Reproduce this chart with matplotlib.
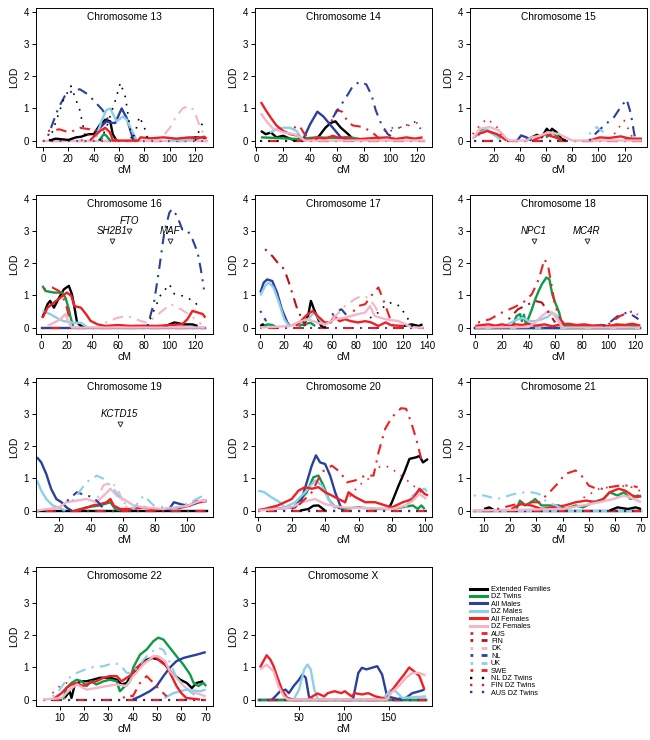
import numpy as np
import matplotlib.pyplot as plt
from matplotlib.lines import Line2D

plt.rcParams['font.family'] = ['Liberation Sans', 'DejaVu Sans']

# series order, labels and look (as in the legend)
keys = ["EXT", "DZT", "AM", "DZM", "AF", "DZF", "AUS", "FIN", "DK", "NL", "UK", "SWE", "NLDZ", "FINDZ", "AUSDZ"]
labels = ["Extended Families", "DZ Twins", "All Males", "DZ Males", "All Females", "DZ Females",
          "AUS", "FIN", "DK", "NL", "UK", "SWE", "NL DZ Twins", "FIN DZ Twins", "AUS DZ Twins"]
colors = ["#000000", "#0f9a48", "#2b3f9e", "#8ccfea", "#ee2024", "#f6b5c6",
          "#ee2024", "#b5121b", "#f6b5c6", "#2b3f9e", "#8ccfea", "#ee2024", "#000000", "#ee2024", "#2b3f9e"]
dashdot = (0, (1, 3, 5, 3))
dotted = (0, (1, 4))
styles = ["-"] * 6 + [dashdot] * 6 + [dotted] * 3
widths = [1.7] * 6 + [1.5] * 6 + [1.2] * 3
# drawing order of the flat zero lines: pink and blue dots end up on top
base_order = ["EXT", "DZT", "AM", "DZM", "AF", "AUS", "FIN", "DK", "NL", "UK", "SWE", "NLDZ", "FINDZ", "DZF", "AUSDZ"]

chroms = ["13", "14", "15", "16", "17", "18", "19", "20", "21", "22", "X"]
spans = [(0, 129), (3, 126), (5, 133), (1, 128), (0, 137), (0, 124), (6, 112), (0, 102), (6, 70), (3, 70), (6, 191)]
xlims = [(-5.5, 134), (-1, 131), (2, 137), (-4, 134), (-4.5, 144), (-4, 129), (5.6, 116), (-2, 104), (4.6, 72.3), (0.2, 73), (1, 198)]
xticks = [range(0, 121, 20), range(0, 121, 20), range(20, 121, 20), range(0, 121, 20), range(0, 141, 20),
          range(0, 121, 20), range(20, 101, 20), range(0, 101, 20), range(10, 71, 10), range(10, 71, 10), [50, 100, 150]]

# LOD curves, (cM, LOD); None breaks a line
c13 = {
    "EXT": [(5, 0), (10, 0.06), (15, 0.04), (20, 0.02), (26, 0.1), (30, 0.12), (36, 0.2), (40, 0.2), (45, 0.5), (49, 0.65),
            (53, 0.6), (55, 0.2), (58, 0), None, (105, 0), (110, 0.05), (120, 0.1), (128, 0.08)],
    "DZT": [(44, 0), (48, 0.2), (50, 0.15), (53, 0)],
    "AM": [(42, 0.3), (45, 0.4), (50, 0.6), (54, 0.55), (57, 0.55), (62, 1.0), (66, 0.7), (71, 0.05), (73, 0)],
    "DZM": [(42, 0.1), (46, 0.6), (50, 0.95), (53, 1.0), (58, 0.6), (63, 0.75), (66, 0.65), (69, 0.4), (74, 0), None,
            (100, 0), (120, 0.05), (128, 0.12)],
    "AF": [(37, 0), (42, 0.2), (45, 0.3), (49, 0.4), (53, 0.25), (55, 0), (75, 0), (77, 0.1), (85, 0.07), (95, 0.1),
           (105, 0.06), (115, 0.1), (122, 0.07), (127, 0.12), (129, 0.06)],
    "DK": [(92, 0), (100, 0.4), (105, 0.75), (110, 1.0), (115, 1.08), (119, 0.95), (124, 0.4), (128, 0.1)],
    "AUS": [(4, 0.3), (13, 0.35), (21, 0.25), (29, 0.4), (37, 0.35), (42, 0.2), (47, 0.05)],
    "NL": [(4, 0.15), (12, 1.0), (18, 1.45), (24, 1.55), (29, 1.6), (35, 1.45), (40, 1.25), (47, 0.95), (52, 0.6)],
    "NLDZ": [(5, 0), (16, 1.25), (22, 1.7), (29, 0.95), (34, 0), None, (45, 0), (50, 0.4), (57, 1.25), (61, 1.8), (65, 1.35),
             (70, 0), (73, 0.3), (76, 0.75), (80, 0.4), (83, 0), None, (120, 0), (124, 0.4), (127, 0.65)],
    "FINDZ": [(30, 0), (40, 0.3), (50, 0.35), (55, 0.1), (60, 0)],
}
c14 = {
    "AF": [(3.4, 1.2), (7, 0.95), (11, 0.7), (15, 0.47), (20, 0.3), (25.5, 0.2), (31, 0.15), (36, 0), (40, 0.05), (46, 0.1),
           (51, 0.05), (57, 0.15), (62, 0.08), (67, 0.1), (72, 0.03), (78, 0.05), (88, 0.08), (98, 0.1), (104, 0.05),
           (112, 0.1), (118, 0.06), (124, 0.1)],
    "DZF": [(3.4, 0.85), (7, 0.63), (12.5, 0.37), (20, 0.26), (28, 0.2), (33, 0.1), (36, 0), (126, 0)],
    "EXT": [(3.4, 0.3), (7, 0.2), (11, 0.25), (15, 0.1), (20, 0.15), (25.5, 0.05), (30, 0), None, (44, 0), (46, 0.1),
            (51.5, 0.4), (55.5, 0.55), (59, 0.6), (63, 0.4), (68.5, 0.2), (72, 0.05), (74, 0)],
    "AM": [(35, 0.05), (40, 0.5), (45.5, 0.9), (50, 0.75), (57, 0.4), (63, 0.1), (68.5, 0)],
    "NL": [(54, 0.5), (59, 0.85), (67, 1.35), (72, 1.7), (77, 1.83), (82, 1.75), (86, 1.4), (89, 0.95), (93, 0.53),
           (98, 0.2), (104, 0.05)],
    "AUS": [(28, 0.4), (32, 0.47), (36, 0.2), (40, 0.05), None, (56, 0.6), (60, 0.95), (64, 0.9), (68, 0.6), (72, 0.47),
            (80, 0.42), (88, 0.2), (92, 0.05)],
    "FINDZ": [(95, 0.3), (102, 0.4), (109, 0.42), (116, 0.5), (120, 0.55), (124, 0.4)],
    "AUSDZ": [(100, 0.3), (110, 0.45), (118, 0.58), (124, 0.3)],
    "DZT": [(3.4, 0.1), (15, 0.08), (30, 0.05), (45, 0.1), (60, 0.08), (70, 0.1), (80, 0.03)],
    "DZM": [(10, 0.25), (15, 0.35), (20, 0.4), (25, 0.4), (30, 0.3), (33, 0.1), (36, 0)],
}
c15 = {
    "NL": [(93, 0), (96, 0.15), (103, 0.42), (112, 0.74), (117, 1.05), (121.5, 1.28), (124.7, 0.84), (127.3, 0.2), (128.6, 0)],
    "DZF": [(4, 0.05), (9.5, 0.37), (17, 0.42), (24, 0.32), (29, 0.1), (32, 0), (45, 0), (49, 0.1), (55, 0.15), (62, 0.26),
            (70, 0.2), (77.5, 0.05), (80, 0), (133, 0)],
    "AF": [(5, 0.1), (7, 0.2), (12, 0.25), (15, 0.3), (19, 0.25), (22.6, 0.2), (26.5, 0.1), (30, 0), None, (50, 0), (55, 0.1),
           (59, 0.2), (63, 0.15), (67, 0.1), (72, 0.02), None, (93, 0), (101, 0.1), (108, 0.08), (117, 0.13), (122, 0.08),
           (127, 0.05), (133, 0.05)],
    "EXT": [(45, 0), (49, 0.1), (53, 0.18), (56.6, 0.1), (60.6, 0.37), (63, 0.26), (64.5, 0.37), (68, 0.26), (72, 0.05), (75, 0)],
    "AM": [(38, 0), (41, 0.16), (45, 0.1), (49, 0)],
    "FINDZ": [(4, 0.2), (10, 0.5), (15, 0.68), (22.6, 0.42), (28, 0), None, (112, 0.2), (119.5, 0.63), (124.7, 0.2), (127, 0)],
    "UK": [(93, 0.2), (98.5, 0.42), (103.8, 0.26), (106, 0.1)],
    "DZT": [(8, 0.15), (12, 0.37), (16, 0.3), (22, 0.15), (25, 0.05), None, (60, 0.1), (65, 0.25), (68, 0.15), (72, 0),
            None, (120, 0.05), (133, 0.06)],
    "DZM": [(5, 0.1), (10, 0.25), (15, 0.35), (20, 0.2), (25, 0.05)],
}
c16 = {
    "NL": [(83, 0.05), (88, 0.78), (92, 1.82), (96, 2.96), (100, 3.58), (102, 3.69), (106, 3.48), (110, 3.06), (114, 3.04),
           (118, 2.75), (122, 2.34), (124.5, 1.82), (127, 1.19)],
    "NLDZ": [(85, 0.26), (93, 1.0), (100, 1.35), (104, 1.04), (110, 0.99), (119, 0.83), (124.5, 0.57)],
    "DK": [(50, 0.15), (59, 0.3), (67, 0.36), (78, 0.2), (83, 0.15), (93, 0.47), (101, 0.73), (109, 0.57), (117, 0.36),
           (125, 0.1)],
    "AF": [(1, 0.3), (5, 0.62), (10, 0.78), (15, 0.93), (20, 1.09), (23.5, 0.99), (26, 0.67), (31, 0.62), (35, 0.42),
           (38.5, 0.21), (44, 0.1), (50, 0.05), (60, 0.08), (70, 0.05), (80, 0.06), (90, 0.05), (100, 0.08), (110, 0.1),
           (114, 0.26), (118, 0.52), (122, 0.47), (126, 0.42), (128, 0.31)],
    "DZT": [(1, 1.3), (3.4, 1.14), (10, 1.09), (16.4, 1.09), (19, 0.93), (21.6, 0.57), (23, 0.31), (25, 0.05)],
    "EXT": [(1, 0.31), (5, 0.73), (7, 0.83), (10, 0.62), (14, 0.93), (17.7, 1.19), (21.6, 1.3), (24, 1.04), (26, 0.62),
            (28, 0.16), (31, 0.05), (35, 0), None, (95, 0), (100, 0.1), (104, 0.16), (111, 0.1), (118, 0.1), (122, 0.05)],
    "AUS": [(2, 1.2), (8.6, 1.25), (14, 1.14), (17.7, 0.88), (20, 0.62), (22, 0.3)],
    "DZM": [(1, 0.52), (7, 0.42), (14, 0.26), (17.7, 0.2), (25, 0.15), (31, 0.15), (33, 0.1), (36, 0)],
    "DZF": [(5, 0.05), (10, 0.15), (15, 0.26), (19, 0.42), (21.6, 0.15), (24, 0), (128, 0)],
}
c17 = {
    "FIN": [(4, 2.44), (10, 2.23), (15.6, 1.97), (20, 1.82), (24, 1.4), (27, 1.04), (31, 0.57), (35, 0.26), (38, 0.05)],
    "AM": [(0, 1.09), (2.8, 1.4), (5.7, 1.5), (10, 1.45), (14, 1.09), (18, 0.57), (22.6, 0.16), (25, 0.03)],
    "DZM": [(0, 1.0), (4, 1.3), (7, 1.4), (11, 1.25), (15.6, 0.78), (20, 0.26), (24, 0.05), (30, 0.1), (40, 0.26),
            (45, 0.47), (49.5, 0.26), (54, 0.05)],
    "EXT": [(0, 0.05), (2, 0.1), (5, 0.02), None, (36, 0.05), (40, 0.36), (42.4, 0.83), (45, 0.57), (48, 0.31), (51, 0.05),
            (55, 0), None, (120, 0.05), (127, 0.1), (133, 0.05), (136, 0.1)],
    "AF": [(30, 0.05), (34, 0.2), (38, 0.36), (41, 0.45), (44, 0.52), (48, 0.36), (54, 0.16), (59, 0.16), (62, 0.36),
           (66.5, 0.2), (71, 0.26), (76, 0.2), (82, 0.16), (88, 0.2), (93, 0.16), (99, 0.05), (105, 0.16), (110, 0.07),
           (120, 0.05)],
    "DZF": [(0, 0), (25, 0.05), (31, 0.16), (40, 0.26), (48, 0.15), (55, 0.1), (62, 0.26), (70, 0.3), (76, 0.36), (82, 0.42),
            (88, 0.47), (92, 0.67), (96, 0.36), (105, 0.26), (116, 0.2), (122, 0.1), (128, 0), (137, 0)],
    "DK": [(55, 0.1), (64, 0.4), (71, 0.67), (79, 0.88), (85, 0.99), (90.5, 0.93), (96, 0.67), (100, 0.4)],
    "AUS": [(78, 0.5), (82, 0.67), (88, 0.73), (93, 0.99), (99, 1.25), (103, 0.88), (107, 0.47), (110, 0.16), (112, 0)],
    "NL": [(0, 0.52), (3, 0.31), (5, 0.2), None, (60, 0.4), (65, 0.52), (68, 0.57), (72, 0.4)],
    "NLDZ": [(92, 0.3), (99, 0.47), (105, 0.7), (110, 0.78), (117, 0.67), (124, 0.26), (128, 0)],
    "DZT": [(3, 0.05), (6, 0.1), (10, 0.08), (13, 0.02), None, (32, 0.05), (36, 0.1), (42, 0.15), (46, 0.05)],
}
c18 = {
    "AUS": [(2, 0.16), (11, 0.26), (20, 0.47), (28.5, 0.62), (36, 0.78), (42.5, 1.04), (47.6, 1.5), (52, 2.13), (54.7, 1.92),
            (57.8, 1.19), (60, 0.67), (64, 0.26), (68, 0.05)],
    "FIN": [(25, 0.26), (32, 0.57), (40, 0.73), (45, 0.83), (50, 0.78), (55, 0.47), (60, 0.16)],
    "DZT": [(28, 0.05), (31, 0.36), (33.6, 0.42), (35, 0.2), (36.5, 0.4), (38, 0.1), (40, 0.3), (42.5, 0.57), (45, 0.88),
            (47.6, 1.14), (50, 1.35), (53.4, 1.56), (55.7, 1.5), (57.8, 1.04), (60, 0.78), (63, 0.47), (65.4, 0.05),
            (90, 0.05), (100, 0.05), (110, 0.08), (122, 0.05)],
    "DZF": [(0, 0), (40, 0.02), (45, 0.16), (50, 0.36), (55, 0.52), (59, 0.42), (63, 0.16), (66, 0), (124, 0)],
    "DZM": [(22, 0.05), (27, 0.16), (32, 0.26), (36, 0.3), (40, 0.2), (45, 0.2), (50, 0.26), (55, 0.35), (57.8, 0.47),
            (61.5, 0.36), (65, 0.05)],
    "NL": [(96, 0.05), (101, 0.16), (107, 0.36), (114, 0.47), (119, 0.36), (122.6, 0.26)],
    "SWE": [(100, 0.1), (108.7, 0.36), (114, 0.45), (119, 0.52), (122, 0.4)],
    "AF": [(0, 0.05), (5, 0.08), (10, 0.1), (15, 0.06), (20, 0.1), (26, 0.05), (30, 0.1), (35, 0.08), (40, 0.12), (45, 0.06),
           (52, 0.1), (58, 0.04), (64, 0.1), (70, 0.12), (76, 0.08), (82, 0.1), (88, 0.06), (95, 0.08), (100, 0.04),
           (106, 0.1), (112, 0.08), (118, 0.12), (124, 0.06)],
}
c19 = {
    "AM": [(6.2, 1.66), (8.9, 1.5), (12, 1.14), (15, 0.68), (18.3, 0.36), (21.5, 0.26), (24.6, 0.1), (27.7, 0), None, (88, 0),
           (91.6, 0.26), (95.8, 0.2), (100, 0.15), (104, 0.2), (110, 0.31), (112, 0.28)],
    "DZM": [(6.2, 0.94), (8.9, 0.62), (12, 0.36), (16, 0.16), (20.4, 0.08), (24, 0)],
    "UK": [(28, 0.3), (31, 0.47), (37, 0.88), (43.5, 1.09), (47.6, 0.99), (54, 0.68), (60, 0.26), (66.5, 0.05), (70, 0.3),
           (72.8, 0.47), (79, 0.16), (91.6, 0.05), (102, 0.26), (110, 0.47)],
    "DZF": [(6, 0), (20, 0.1), (24.6, 0.26), (31, 0.31), (37, 0.36), (43.5, 0.26), (50, 0.57), (52, 0.68), (56, 0.47),
            (60, 0.36), (66.5, 0.16), (72.8, 0.1), (85, 0.05), (100, 0.15), (108, 0.31), (112, 0.3)],
    "DK": [(44, 0.4), (47.6, 0.78), (52, 0.88), (56, 0.73), (60, 0.26), (63, 0.05)],
    "NL": [(25, 0.3), (31, 0.57), (37, 0.47), (41, 0.42), (44.5, 0.26), (47, 0.1)],
    "AF": [(30, 0), (35, 0.05), (41, 0.16), (45.5, 0.2), (49.7, 0.26), (52, 0.36), (54, 0.16), (58, 0.05), (65, 0.05),
           (72.8, 0.1), (80, 0.03), (87, 0.05), (95, 0.08), (102, 0.16), (105, 0.31), (108, 0.26), (112, 0.31)],
    "DZT": [(30, 0), (37, 0.1), (45.5, 0.16), (52, 0.26), (55, 0.05), (58, 0)],
}
c20 = {
    "AUS": [(20, 0.05), (24, 0.16), (32, 0.57), (38, 1.2), (44, 1.4), (49, 1.2), (53, 0.88), (58, 0.94), (64, 1.09),
            (69, 1.09), (72, 1.82), (76, 2.55), (80, 2.91), (85.5, 3.19), (88.5, 3.17), (91.5, 2.75), (94.5, 2.24), (97.6, 1.61)],
    "FINDZ": [(48, 0.05), (52, 0.26), (60, 0.78), (66, 0.99), (72, 1.35), (76, 1.4), (80, 1.3), (88, 0.99), (96.5, 0.62),
              (100, 0.45)],
    "EXT": [(25, 0), (30, 0.05), (33, 0.15), (36, 0.16), (40, 0), None, (78, 0.05), (80, 0.26), (84, 0.78), (87.5, 1.2),
            (90.5, 1.61), (94.5, 1.66), (96.5, 1.7), (98.6, 1.5), (101.6, 1.61)],
    "AM": [(0, 0.02), (22, 0.1), (26, 0.36), (29, 0.88), (32, 1.4), (34.5, 1.72), (37, 1.5), (40, 1.45), (43, 1.09),
           (46, 0.57), (49, 0.16), (51, 0)],
    "DZT": [(20, 0.05), (24, 0.26), (29, 0.57), (33, 1.04), (36, 1.09), (39, 0.78), (42, 0.36), (45, 0.16), (50, 0.05),
            (60, 0.1), (70, 0.05), (80, 0.05), (92.5, 0.16), (95.5, 0.05), (97.6, 0.16), (99.6, 0.05)],
    "DZM": [(0, 0.62), (3.6, 0.57), (7.7, 0.42), (12.7, 0.26), (15.8, 0.1), (22, 0.26), (28, 0.57), (34, 0.94), (38, 0.78),
            (42, 0.36), (46, 0.05), None, (88, 0.1), (92.5, 0.47), (96.5, 0.62), (99.6, 0.68), (101, 0.6)],
    "AF": [(0, 0), (11.7, 0.16), (20, 0.36), (24, 0.62), (28, 0.73), (32, 0.68), (36, 0.73), (40, 0.57), (44, 0.47),
           (48, 0.36), (52, 0.26), (54, 0.57), (58, 0.42), (64, 0.26), (70, 0.26), (76, 0.16), (80, 0.1), (86.5, 0.26),
           (92.5, 0.36), (96.5, 0.68), (99.6, 0.52), (101.6, 0.47)],
    "DZF": [(0, 0), (20, 0.1), (26, 0.26), (34, 0.36), (40, 0.2), (50, 0.1), (80, 0.05), (88, 0.15), (92.5, 0.31),
            (96.5, 0.52), (100.6, 0.36)],
}
c21 = {
    "AUS": [(15, 0.05), (20.4, 0.16), (25.6, 0.26), (31, 0.26), (35, 0.57), (38, 0.83), (41, 1.14), (45, 1.25), (47.8, 1.04),
            (50, 0.78), (53, 0.68), (55.6, 0.68), (58, 0.73), (62, 0.78), (66, 0.78), (68.7, 0.73)],
    "UK": [(6, 0.47), (10, 0.47), (15, 0.36), (21.7, 0.52), (27, 0.59), (31, 0.52), (34, 0.26), (37.4, 0.16), (40, 0.05)],
    "DZT": [(22.4, 0.05), (23.7, 0.31), (25.6, 0.16), (28, 0.26), (29.5, 0.36), (32, 0.16), (34.8, 0.16), (38.7, 0.16),
            (41, 0.05), (45, 0.16), (47.8, 0.1), (51.7, 0.26), (55.6, 0.36), (58, 0.57), (61, 0.47), (63.5, 0.57),
            (66, 0.36), (68.7, 0.47), (70, 0.42)],
    "AF": [(20.4, 0.05), (24, 0.2), (28, 0.16), (32, 0.05), (36, 0.1), (41, 0.16), (45, 0.26), (49, 0.31), (53, 0.26),
           (55.6, 0.36), (58, 0.57), (61.5, 0.68), (64, 0.62), (66.7, 0.47), (68.7, 0.42), (70, 0.47)],
    "DZF": [(6, 0), (40, 0.05), (47.8, 0.16), (54, 0.26), (59.5, 0.36), (63.5, 0.47), (67.4, 0.36), (70, 0.26)],
    "FINDZ": [(48, 0.4), (54, 0.68), (62, 0.78), (67, 0.72), (70, 0.6)],
    "EXT": [(10, 0.05), (12, 0.1), (14, 0), None, (58, 0), (61, 0.1), (65, 0.05), (68, 0.1), (70, 0.05)],
}
c22 = {
    "DZT": [(11.4, 0), (12.7, 0.36), (14.8, 0.52), (17, 0.62), (19, 0.57), (21, 0.42), (23, 0.57), (25, 0.47), (28, 0.57),
            (30.6, 0.62), (33.4, 0.57), (34.7, 0.26), (36.8, 0.42), (38.8, 0.57), (40.2, 1.0), (43, 1.4), (45.7, 1.56),
            (48.5, 1.82), (50.5, 1.93), (52.6, 1.87), (55.3, 1.61), (58, 1.35), (60.8, 1.09), (63.6, 0.78), (65, 0.52),
            (67, 0.42), (69, 0.52), (70.2, 0.42)],
    "EXT": [(12, 0.05), (14, 0.26), (14.8, 0.05), (16, 0.42), (18.2, 0.57), (21, 0.57), (23.7, 0.62), (26.5, 0.68),
            (30.6, 0.68), (33.4, 0.62), (35.4, 0.47), (37.5, 0.52), (39.5, 0.78), (41.6, 0.94), (44.3, 1.2), (47.8, 1.3),
            (50.5, 1.25), (53.3, 1.09), (56, 0.83), (59.5, 0.62), (62.2, 0.52), (64.3, 0.36), (66.3, 0.52), (69, 0.57)],
    "AF": [(7, 0), (10.7, 0.2), (12.7, 0.36), (14.8, 0.47), (17, 0.52), (19.6, 0.42), (22.4, 0.52), (25, 0.57), (28, 0.68),
           (30.6, 0.73), (33.4, 0.73), (35.4, 0.57), (37.5, 0.68), (39.5, 0.78), (41.6, 1.0), (44.3, 1.14), (47, 1.25),
           (49, 1.35), (51.2, 1.2), (54, 1.04), (56, 0.73), (58, 0.42), (60, 0.2), (62, 0.05), (67.7, 0)],
    "DZF": [(3, 0), (10.7, 0.05), (14.1, 0.31), (17, 0.47), (21, 0.31), (25, 0.36), (29.2, 0.42), (33.4, 0.47), (37.5, 0.42),
            (40.2, 0.73), (44.3, 1.09), (48.5, 1.35), (50.5, 1.35), (53.3, 1.2), (55.3, 0.88), (58, 0.68), (61, 0.42),
            (63.6, 0.26), (67.7, 0.16), (70, 0.1)],
    "AM": [(40, 0), (43, 0.1), (47, 0.26), (49.8, 0.42), (52.6, 0.73), (55.3, 1.0), (58, 1.2), (61, 1.3), (63.6, 1.35),
           (66.3, 1.4), (70, 1.48)],
    "UK": [(7, 0.1), (10, 0.31), (12.7, 0.62), (17, 0.83), (22.4, 1.0), (28, 1.04), (32, 1.14), (34.7, 1.09), (37.5, 0.83),
           (40, 0.83), (45.7, 1.35), (50, 1.62), (52.6, 1.55), (55.3, 1.15), (58, 0.7), (62, 0.35), (66, 0.1)],
    "AUS": [(36, 0.05), (38, 0.15), (40, 0.1), (43, 0.52), (45.7, 0.73), (48.5, 0.52), (51, 0.31), (54, 0.1)],
    "FINDZ": [(7, 0.2), (10, 0.42), (12.7, 0.52), (15, 0.45)],
    "DZM": [(53, 0.05), (56.7, 0.2), (62, 0.31), (67.7, 0.26), (70, 0.31)],
}
cX = {
    "AF": [(6.6, 1.0), (10.4, 1.2), (14, 1.38), (18, 1.25), (21.7, 1.04), (25.5, 0.73), (31, 0.31), (36.8, 0.05), (44, 0),
           None, (59.4, 0), (65, 0.1), (70.7, 0.19), (78, 0.1), (82, 0.2), (89.6, 0.26), (97, 0.2), (101, 0.26), (108.5, 0.1),
           (112, 0.2), (120, 0.16), (127, 0.2), (135, 0.1), (142.5, 0.05), (148, 0), (154, 0.31), (161, 0.57), (167, 0.78),
           (172.6, 1.0), (178, 0.88), (184, 0.73), (189.6, 0.31)],
    "DZF": [(6.6, 0.94), (14, 1.09), (21.7, 0.88), (27, 0.42), (33, 0.1), (38, 0), (148, 0), (152, 0.2), (161, 0.42),
            (169, 0.68), (176, 0.83), (184, 0.83), (190.8, 0.75)],
    "AM": [(20, 0), (23.6, 0.1), (29, 0.26), (35, 0.31), (38.7, 0.2), (44, 0.42), (50, 0.62), (53.7, 0.78), (57.5, 0.68),
           (61, 0.1), (65, 0), None, (110, 0), (116, 0.83), (120, 0.99), (125, 0.94), (131, 0.99), (137, 1.04), (142.5, 0.78),
           (148, 0.1), (160, 0.02), (169, 0.05), (176, 0.2), (184, 0.26), (189.6, 0.31)],
    "DZM": [(44, 0), (50, 0.31), (55.7, 0.94), (59.4, 1.09), (63, 0.94), (67, 0.31), (70.7, 0.05), None, (140, 0), (146, 0.1),
            (152, 0.31), (157.5, 0.26), (165, 0.05), (191.5, 0.1)],
}
data = [c13, c14, c15, c16, c17, c18, c19, c20, c21, c22, cX]

# candidate genes: chromosome, name, cM, label height
genes_chr = ["16", "16", "16", "18", "18", "19"]
genes_name = ["SH2B1", "FTO", "MAF", "NPC1", "MC4R", "KCTD15"]
genes_cm = [55, 68.5, 100.5, 43.8, 83.7, 57.7]
genes_lod = [3.0, 3.32, 3.0, 3.0, 3.0, 3.0]

fig = plt.figure(figsize=(6.5, 7.4), dpi=100)
W, H = 650, 740
col_left = [36, 255, 470]
row_top = [8, 195, 378, 567]
aw, ah = 177, 139


def xy(pts):
    return [p[0] if p else np.nan for p in pts], [p[1] if p else np.nan for p in pts]


for i, ch in enumerate(chroms):
    r, c = divmod(i, 3)
    ax = fig.add_axes([col_left[c] / W, 1 - (row_top[r] + ah) / H, aw / W, ah / H])
    curves = data[i]
    s0, s1 = spans[i]
    # flat zero lines for series with no signal here
    for key in base_order:
        if key not in curves:
            k = keys.index(key)
            ax.plot([s0, s1], [0, 0], color=colors[k], ls=styles[k], lw=widths[k], dash_capstyle='butt')
    for k, key in enumerate(keys):
        if key in curves:
            xs, ys = xy(curves[key])
            ax.plot(xs, ys, color=colors[k], ls=styles[k], lw=widths[k],
                    solid_capstyle='butt', dash_capstyle='butt')
    for g, name in enumerate(genes_name):
        if genes_chr[g] == ch:
            ax.text(genes_cm[g], genes_lod[g], name, style='italic', fontsize=7, ha='center', va='center')
            ax.plot(genes_cm[g], genes_lod[g] - 0.3, marker='v', ms=3.5, mfc='white', mec='#333333', mew=0.7)
    ax.set_xlim(*xlims[i])
    ax.set_ylim(-0.2, 4.13)
    ax.set_xticks(list(xticks[i]))
    ax.set_yticks([0, 1, 2, 3, 4])
    ax.tick_params(direction='out', length=3, width=0.7, labelsize=7, pad=2)
    for sp in ax.spines.values():
        sp.set_linewidth(0.7)
    ax.text(0.5, 0.935, "Chromosome " + ch, transform=ax.transAxes, ha='center', va='center', fontsize=7.3)
    ax.set_xlabel("cM", fontsize=7.5, labelpad=1)
    ax.set_ylabel("LOD", fontsize=7.5, labelpad=3)

handles = [Line2D([], [], color=colors[k], ls=styles[k], lw=widths[k] + 0.5) for k in range(len(keys))]
fig.legend(handles, labels, loc='upper left', bbox_to_anchor=(470 / W, 1 - 586 / H), frameon=False,
           fontsize=5.2, handlelength=2.3, handletextpad=0.6, labelspacing=0.05, borderaxespad=0, borderpad=0)

fig.savefig("out.png", dpi=100)
